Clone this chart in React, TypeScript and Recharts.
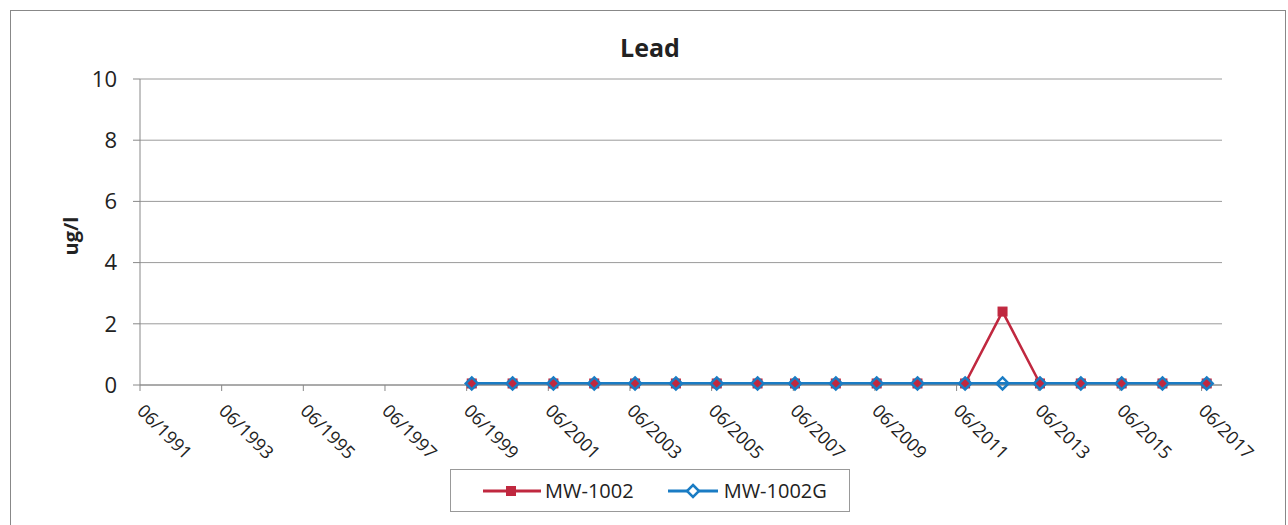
import React from "react";
import { LineChart, Line, XAxis, YAxis, CartesianGrid } from "recharts";

const sampleDates = [
  "07/1999", "07/2000", "07/2001", "07/2002", "07/2003", "07/2004", "07/2005",
  "07/2006", "06/2007", "06/2008", "06/2009", "06/2010", "08/2011", "07/2012",
  "06/2013", "06/2014", "06/2015", "06/2016", "07/2017",
];
const mw1002 = [
  0.05, 0.05, 0.05, 0.05, 0.05, 0.05, 0.05, 0.05, 0.05, 0.05, 0.05, 0.05,
  0.05, 2.4, 0.05, 0.05, 0.05, 0.05, 0.05,
];
const mw1002G = [
  0.05, 0.05, 0.05, 0.05, 0.05, 0.05, 0.05, 0.05, 0.05, 0.05, 0.05, 0.05,
  0.05, 0.05, 0.05, 0.05, 0.05, 0.05, 0.05,
];
const xTickLabels = [
  "06/1991", "06/1993", "06/1995", "06/1997", "06/1999", "06/2001", "06/2003",
  "06/2005", "06/2007", "06/2009", "06/2011", "06/2013", "06/2015", "06/2017",
];
const yTicks = [0, 2, 4, 6, 8, 10];
const xDomainEnd = "12/2017";

const RED = "#c0283f";
const BLUE = "#1a7cc4";
const FONT = "'Open Sans', 'Noto Sans', sans-serif";

// "MM/YYYY" -> decimal year (mid-month for samples, start of month for ticks)
const toYear = (s: string, mid = 0) => {
  const [m, y] = s.split("/").map(Number);
  return y + (m - 1 + mid) / 12;
};

const data = sampleDates.map((d, i) => ({
  t: toYear(d, 0.5),
  a: mw1002[i],
  b: mw1002G[i],
}));
const xTicks = xTickLabels.map((l) => toYear(l));
const labelFor = (v: number) => {
  let best = xTickLabels[0];
  let bd = Infinity;
  xTickLabels.forEach((l) => {
    const d = Math.abs(toYear(l) - v);
    if (d < bd) {
      bd = d;
      best = l;
    }
  });
  return best;
};

const XTick = (props: any) => {
  const { x, y, payload } = props;
  const px = x - 4;
  const py = y + 19;
  return (
    <text
      x={px}
      y={py}
      transform={`rotate(45 ${px} ${py})`}
      textAnchor="start"
      fontSize={18}
      fontFamily={FONT}
      fill="#222"
    >
      {labelFor(payload.value)}
    </text>
  );
};

const SquareDot = (props: any) => {
  const { cx, cy } = props;
  if (cx == null || cy == null) return null;
  return <rect x={cx - 4.5} y={cy - 4.5} width={9} height={9} fill={RED} stroke={RED} strokeWidth={1} />;
};

const DiamondDot = (props: any) => {
  const { cx, cy } = props;
  if (cx == null || cy == null) return null;
  return (
    <path
      d={`M${cx},${cy - 6} L${cx + 6},${cy} L${cx},${cy + 6} L${cx - 6},${cy} Z`}
      fill="none"
      stroke={BLUE}
      strokeWidth={2.5}
    />
  );
};

const LegendBox = () => (
  <div
    style={{
      position: "absolute",
      left: 439,
      top: 458,
      width: 398,
      height: 41,
      border: "1px solid #999",
      background: "#fff",
      display: "flex",
      alignItems: "center",
      fontFamily: FONT,
      fontSize: 20,
      color: "#222",
    }}
  >
    <svg width={62} height={20} style={{ marginLeft: 30 }}>
      <line x1={2} y1={10} x2={60} y2={10} stroke={RED} strokeWidth={3} />
      <rect x={25} y={5} width={10} height={10} fill={RED} />
    </svg>
    <span style={{ marginLeft: 2 }}>MW-1002</span>
    <svg width={54} height={20} style={{ marginLeft: 32 }}>
      <line x1={2} y1={10} x2={52} y2={10} stroke={BLUE} strokeWidth={3} />
      <path d="M27,4 L33,10 L27,16 L21,10 Z" fill="#fff" stroke={BLUE} strokeWidth={2.5} />
    </svg>
    <span style={{ marginLeft: 4 }}>MW-1002G</span>
  </div>
);

export default function App() {
  return (
    <div
      style={{
        position: "absolute",
        left: 10,
        top: 10,
        width: 1274,
        height: 530,
        border: "1px solid #888",
        background: "#fff",
      }}
    >
      <LineChart
        width={1274}
        height={510}
        data={data}
        margin={{ top: 68, right: 63, bottom: 56, left: 0 }}
      >
        <CartesianGrid vertical={false} stroke="#9a9a9a" strokeWidth={1} />
        <XAxis
          dataKey="t"
          type="number"
          domain={[xTicks[0], toYear(xDomainEnd)]}
          ticks={xTicks}
          interval={0}
          height={80}
          tickSize={6}
          tickMargin={2}
          tick={<XTick />}
          axisLine={{ stroke: "#888" }}
          tickLine={{ stroke: "#888" }}
          allowDataOverflow
        />
        <YAxis
          domain={[0, 10]}
          ticks={yTicks}
          interval={0}
          width={129}
          tickSize={7}
          tickMargin={16}
          axisLine={{ stroke: "#888" }}
          tickLine={{ stroke: "#888" }}
          tick={{ fontSize: 22, fill: "#222", fontFamily: FONT }}
        />
        <Line
          dataKey="a"
          name="MW-1002"
          stroke={RED}
          strokeWidth={2.5}
          dot={<SquareDot />}
          activeDot={false}
          isAnimationActive={false}
        />
        <Line
          dataKey="b"
          name="MW-1002G"
          stroke={BLUE}
          strokeWidth={3}
          dot={<DiamondDot />}
          activeDot={false}
          isAnimationActive={false}
        />
      </LineChart>
      <LegendBox />
      <svg
        width={1274}
        height={510}
        style={{ position: "absolute", left: 0, top: 0, pointerEvents: "none" }}
      >
        <text x={639} y={46} textAnchor="middle" fontSize={25} fontWeight="bold" fontFamily={FONT} fill="#222">
          Lead
        </text>
        <text
          x={67}
          y={225}
          transform="rotate(-90 67 225)"
          textAnchor="middle"
          fontSize={20}
          fontWeight="bold"
          fontFamily={FONT}
          fill="#222"
        >
          ug/l
        </text>
      </svg>
    </div>
  );
}
